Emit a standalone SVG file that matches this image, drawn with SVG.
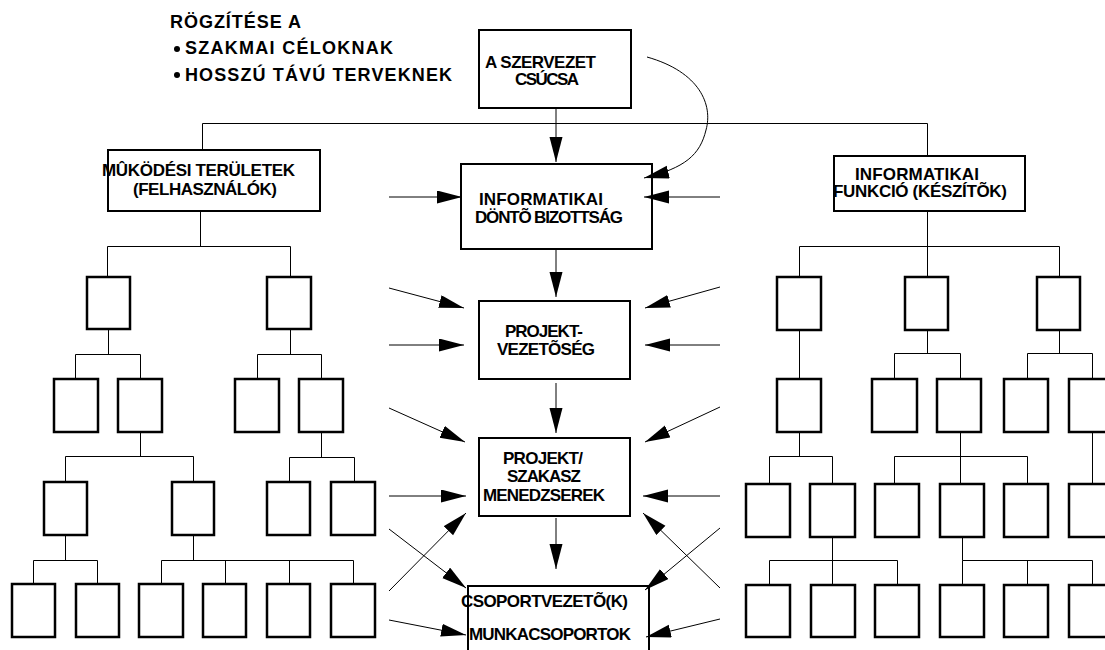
<svg xmlns="http://www.w3.org/2000/svg" width="1105" height="650" viewBox="0 0 1105 650">
<style>
text{font-family:"Liberation Sans",Arial,sans-serif;font-weight:bold;font-size:17px;fill:#000}
.hd{font-size:18px}
.cb{fill:#fff;stroke:#000;stroke-width:2}
.tb{fill:#fff;stroke:#000;stroke-width:2.5}
.ln{fill:none;stroke:#000;stroke-width:1}
.ar{fill:none;stroke:#000;stroke-width:1;marker-end:url(#ah)}
</style>
<defs>
<marker id="ah" markerUnits="userSpaceOnUse" markerWidth="26" markerHeight="14" refX="25" refY="6.5" orient="auto">
<path d="M0,0 L25,6.5 L0,13 Z" fill="#000"/>
</marker>
</defs>

<g id="heading">
<text class="hd" x="170" y="28" textLength="131" lengthAdjust="spacing">RÖGZÍTÉSE A</text>
<circle cx="177" cy="49" r="3"/>
<text class="hd" x="185" y="54" textLength="208" lengthAdjust="spacing">SZAKMAI CÉLOKNAK</text>
<circle cx="177" cy="75" r="3"/>
<text class="hd" x="185" y="81" textLength="267" lengthAdjust="spacing">HOSSZÚ TÁVÚ TERVEKNEK</text>
</g>

<g id="connectors">
<path class="ln" d="M202.5,123.5 H927.5 M202.5,123.5 V150 M927.5,123.5 V156"/>
<path class="ln" d="M200.5,211 V246.5 M107.5,246.5 H290.5 M107.5,246.5 V277 M290.5,246.5 V277"/>
<path class="ln" d="M108.5,329 V354.5 M75.5,354.5 H140.5 M75.5,354.5 V379 M140.5,354.5 V379"/>
<path class="ln" d="M290.5,329 V354.5 M257.5,354.5 H321.5 M257.5,354.5 V379 M321.5,354.5 V379"/>
<path class="ln" d="M140.5,432 V456.5 M65.5,456.5 H193.5 M65.5,456.5 V482 M193.5,456.5 V482"/>
<path class="ln" d="M321.5,432 V457.5 M289.5,457.5 H354.5 M289.5,457.5 V482 M354.5,457.5 V482"/>
<path class="ln" d="M65.5,535 V560.5 M33.5,560.5 H97.5 M33.5,560.5 V584 M97.5,560.5 V584"/>
<path class="ln" d="M193.5,535 V560.5 M161.5,560.5 H353.5 M161.5,560.5 V584 M225.5,560.5 V584 M289.5,560.5 V584 M353.5,560.5 V584"/>
<path class="ln" d="M927.5,211 V277 M799.5,246.5 H1059.5 M799.5,246.5 V277 M1059.5,246.5 V277"/>
<path class="ln" d="M799.5,330 V379"/>
<path class="ln" d="M927.5,330 V353.5 M894.5,353.5 H960.5 M894.5,353.5 V379 M960.5,353.5 V379"/>
<path class="ln" d="M1059.5,330 V353.5 M1027.5,353.5 H1092.5 M1027.5,353.5 V379 M1092.5,353.5 V379"/>
<path class="ln" d="M799.5,432 V456.5 M769.5,456.5 H832.5 M769.5,456.5 V484 M832.5,456.5 V484"/>
<path class="ln" d="M960.5,432 V484 M894.5,456.5 H1027.5 M894.5,456.5 V484 M1027.5,456.5 V484"/>
<path class="ln" d="M1092.5,432 V484"/>
<path class="ln" d="M832.5,537 V560.5 M769.5,560.5 H897.5 M769.5,560.5 V584 M832.5,560.5 V584 M897.5,560.5 V584"/>
<path class="ln" d="M962.5,537 V560.5 M962.5,560.5 H1092.5 M962.5,560.5 V584 M1027.5,560.5 V584 M1092.5,560.5 V584"/>
</g>

<g id="top"><rect class="cb" x="479" y="30" width="152" height="78"/>
<text x="485" y="68" textLength="111" lengthAdjust="spacing">A SZERVEZET</text>
<text x="515" y="85" textLength="64" lengthAdjust="spacing">CSÚCSA</text></g>

<g id="board"><rect class="cb" x="461" y="164" width="191" height="85"/>
<text x="479" y="205" textLength="124" lengthAdjust="spacing">INFORMATIKAI</text>
<text x="475" y="223" textLength="148" lengthAdjust="spacing">DÖNTÕ BIZOTTSÁG</text></g>

<g id="projlead"><rect class="cb" x="479" y="301" width="151" height="78"/>
<text x="505" y="337" textLength="78" lengthAdjust="spacing">PROJEKT-</text>
<text x="497" y="355" textLength="98" lengthAdjust="spacing">VEZETÕSÉG</text></g>

<g id="managers"><rect class="cb" x="479" y="438" width="151" height="78"/>
<text x="503" y="464" textLength="80" lengthAdjust="spacing">PROJEKT/</text>
<text x="507" y="482" textLength="74" lengthAdjust="spacing">SZAKASZ</text>
<text x="483" y="501" textLength="122" lengthAdjust="spacing">MENEDZSEREK</text></g>

<g id="teams"><rect class="cb" x="468" y="586" width="181" height="70"/>
<text x="461" y="607" textLength="167" lengthAdjust="spacing">CSOPORTVEZETÕ(K)</text>
<text x="469" y="640" textLength="162" lengthAdjust="spacing">MUNKACSOPORTOK</text></g>

<g id="users"><rect class="cb" x="108" y="150" width="212" height="61"/>
<text x="102" y="176" textLength="193" lengthAdjust="spacing">MÛKÖDÉSI TERÜLETEK</text>
<text x="133" y="195" textLength="144" lengthAdjust="spacing">(FELHASZNÁLÓK)</text></g>

<g id="itfunc"><rect class="cb" x="834" y="156" width="191" height="55"/>
<text x="855" y="180" textLength="124" lengthAdjust="spacing">INFORMATIKAI</text>
<text x="833" y="197" textLength="174" lengthAdjust="spacing">FUNKCIÓ (KÉSZÍTÕK)</text></g>

<g id="L1a"><rect class="tb" x="87" y="277" width="43" height="52"/></g>
<g id="L1b"><rect class="tb" x="267" y="277" width="44" height="52"/></g>
<g id="L2a"><rect class="tb" x="54" y="379" width="44" height="53"/></g>
<g id="L2b"><rect class="tb" x="118" y="379" width="44" height="53"/></g>
<g id="L2c"><rect class="tb" x="235" y="379" width="44" height="53"/></g>
<g id="L2d"><rect class="tb" x="299" y="379" width="44" height="53"/></g>
<g id="L3a"><rect class="tb" x="44" y="482" width="43" height="53"/></g>
<g id="L3b"><rect class="tb" x="172" y="482" width="42" height="53"/></g>
<g id="L3c"><rect class="tb" x="267" y="482" width="43" height="53"/></g>
<g id="L3d"><rect class="tb" x="331" y="482" width="44" height="53"/></g>
<g id="L4a"><rect class="tb" x="12" y="584" width="43" height="53"/></g>
<g id="L4b"><rect class="tb" x="76" y="584" width="43" height="53"/></g>
<g id="L4c"><rect class="tb" x="139" y="584" width="44" height="53"/></g>
<g id="L4d"><rect class="tb" x="203" y="584" width="43" height="53"/></g>
<g id="L4e"><rect class="tb" x="267" y="584" width="43" height="53"/></g>
<g id="L4f"><rect class="tb" x="331" y="584" width="44" height="53"/></g>

<g id="R1a"><rect class="tb" x="777" y="277" width="44" height="53"/></g>
<g id="R1b"><rect class="tb" x="905" y="277" width="43" height="53"/></g>
<g id="R1c"><rect class="tb" x="1037" y="277" width="43" height="53"/></g>
<g id="R2a"><rect class="tb" x="777" y="379" width="44" height="53"/></g>
<g id="R2b"><rect class="tb" x="872" y="379" width="45" height="53"/></g>
<g id="R2c"><rect class="tb" x="937" y="379" width="44" height="53"/></g>
<g id="R2d"><rect class="tb" x="1004" y="379" width="44" height="53"/></g>
<g id="R2e"><rect class="tb" x="1069" y="379" width="44" height="53"/></g>
<g id="R3a"><rect class="tb" x="746" y="484" width="44" height="53"/></g>
<g id="R3b"><rect class="tb" x="810" y="484" width="45" height="53"/></g>
<g id="R3c"><rect class="tb" x="875" y="484" width="44" height="53"/></g>
<g id="R3d"><rect class="tb" x="940" y="484" width="44" height="53"/></g>
<g id="R3e"><rect class="tb" x="1004" y="484" width="44" height="53"/></g>
<g id="R3f"><rect class="tb" x="1069" y="484" width="44" height="53"/></g>
<g id="R4a"><rect class="tb" x="746" y="585" width="44" height="52"/></g>
<g id="R4b"><rect class="tb" x="811" y="585" width="44" height="52"/></g>
<g id="R4c"><rect class="tb" x="875" y="585" width="44" height="52"/></g>
<g id="R4d"><rect class="tb" x="940" y="585" width="44" height="52"/></g>
<g id="R4e"><rect class="tb" x="1004" y="585" width="44" height="52"/></g>
<g id="R4f"><rect class="tb" x="1069" y="585" width="44" height="52"/></g>

<g id="arrows">
<path class="ar" d="M556,108 V162"/>
<path class="ar" d="M556,249 V297"/>
<path class="ar" d="M556,383 V433"/>
<path class="ar" d="M556,518 V569"/>
<path class="ar" d="M647,57 C700,72 713,105 706,130 C700,155 685,168 644,178"/>
<path class="ar" d="M389,197 H462"/>
<path class="ar" d="M389,288 L464,308"/>
<path class="ar" d="M389,345 H464"/>
<path class="ar" d="M389,408 L465,442"/>
<path class="ar" d="M389,496 H466"/>
<path class="ar" d="M389,591 L466,513"/>
<path class="ar" d="M389,529 L466,588"/>
<path class="ar" d="M389,620 L466,635"/>
<path class="ar" d="M720,197 H644"/>
<path class="ar" d="M720,287 L645,308"/>
<path class="ar" d="M720,345 H645"/>
<path class="ar" d="M720,407 L645,442"/>
<path class="ar" d="M720,496 H643"/>
<path class="ar" d="M720,588 L643,513"/>
<path class="ar" d="M720,528 L645,590"/>
<path class="ar" d="M720,619 L646,637"/>
</g>
</svg>
